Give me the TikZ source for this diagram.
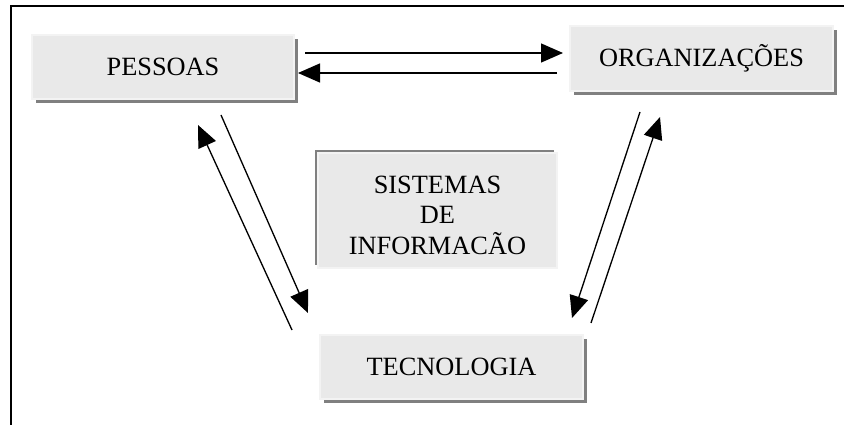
\documentclass[tikz,border=0pt]{standalone}
\usepackage{fontspec}
\setmainfont{Liberation Serif}
\usepackage{xcolor}
\usepackage{tikz}
\usetikzlibrary{shadows,arrows.meta}

\definecolor{boxgray}{RGB}{233,233,233}
\definecolor{edgegray}{RGB}{243,243,243}
\definecolor{shadowgray}{RGB}{128,128,128}

\tikzset{
  sbox/.style={fill=boxgray, draw=edgegray, line width=0.04cm, inner sep=0pt,
    font=\fontsize{15}{17.4}\selectfont, align=center},
  raised/.style={sbox, drop shadow={shadow xshift=0.08cm, shadow yshift=-0.08cm,
    fill=shadowgray, opacity=1}},
  sunken/.style={sbox, drop shadow={shadow xshift=-0.06cm, shadow yshift=0.06cm,
    fill=shadowgray, opacity=1}},
  arr/.style={line width=0.75pt, -{Triangle[length=0.44cm, width=0.38cm]}}
}

\begin{document}
\begin{tikzpicture}[x=0.02cm, y=-0.02cm]
 \useasboundingbox (0,0) rectangle (844,425);
 \draw [line width=1pt] (11,425) -- (11,6) -- (844,6);

 \node [raised, minimum width=5.24cm, minimum height=1.28cm] (pes) at (163,67) {PESSOAS};
 \node [raised, minimum width=5.26cm, minimum height=1.3cm] (org) at (701.5,58.5) {ORGANIZAÇÕES};
 \node [raised, minimum width=5.26cm, minimum height=1.28cm] (tec) at (451.5,367) {TECNOLOGIA};
 \node [sunken, minimum width=4.78cm, minimum height=2.3cm] (sis) at (437.5,210.5)
   {\rule{0pt}{15.5pt}SISTEMAS\\DE\\INFORMACÃO};

 % ends of the arrows
 \coordinate (po1) at (305,53);
 \coordinate (po2) at (563,53);
 \coordinate (op1) at (557,73);
 \coordinate (op2) at (298,73);
 \coordinate (pt1) at (221,115);
 \coordinate (pt2) at (308,313);
 \coordinate (tp1) at (292,330);
 \coordinate (tp2) at (198,125);
 \coordinate (ot1) at (640,112);
 \coordinate (ot2) at (572,318);
 \coordinate (to1) at (591,323);
 \coordinate (to2) at (660,117);

 \draw [arr] (po1) -- (po2);
 \draw [arr] (op1) -- (op2);
 \draw [arr] (pt1) -- (pt2);
 \draw [arr] (tp1) -- (tp2);
 \draw [arr] (ot1) -- (ot2);
 \draw [arr] (to1) -- (to2);
\end{tikzpicture}
\end{document}
